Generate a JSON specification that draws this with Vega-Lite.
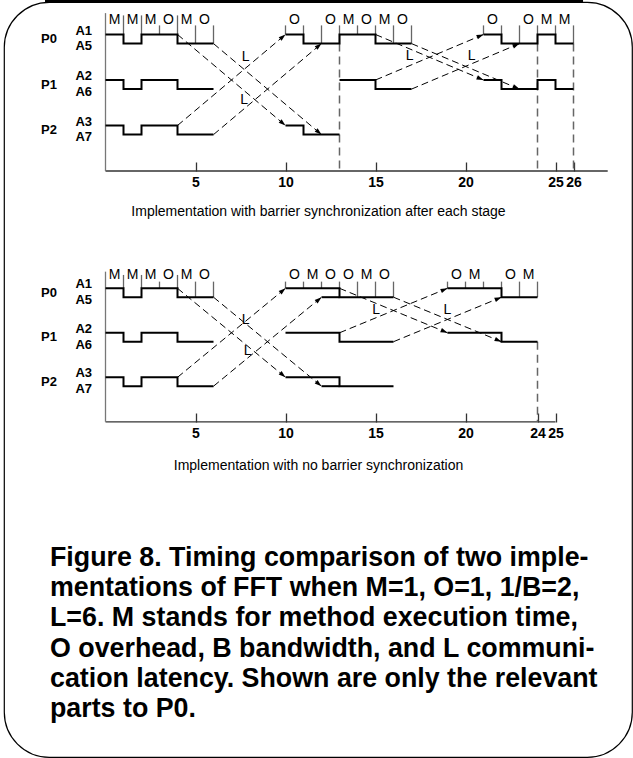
{
  "$schema": "https://vega.github.io/schema/vega-lite/v6.json",
  "width": 628,
  "height": 755,
  "autosize": {"type": "none"},
  "padding": {"left": 4, "top": 2, "right": 1, "bottom": 1},
  "background": "white",
  "config": {"view": {"stroke": "#000", "strokeWidth": 1.2, "cornerRadius": 45}, "font": "Liberation Sans"},
  "title": {
    "text": ["Figure 8. Timing comparison of two imple-", "mentations of FFT when M=1, O=1, 1/B=2,", "L=6.  M stands for method execution time,", "O overhead, B bandwidth, and L communi-", "cation latency. Shown are only the relevant", "parts to P0."],
    "orient": "bottom", "anchor": "start", "frame": "group", "align": "left", "baseline": "top",
    "offset": -212, "dx": 46, "font": "Liberation Sans", "fontSize": 26.8, "fontWeight": "bold", "lineHeight": 30.2, "color": "#000"
  },
  "datasets": {
    "prof": [
      {"d":"T","path":"T-P0a","t":0,"l":0},{"d":"T","path":"T-P0a","t":1,"l":1},{"d":"T","path":"T-P0a","t":2,"l":0},{"d":"T","path":"T-P0a","t":4,"l":1},{"d":"T","path":"T-P0a","t":6,"l":1},
      {"d":"T","path":"T-P1a","t":0,"l":5},{"d":"T","path":"T-P1a","t":1,"l":6},{"d":"T","path":"T-P1a","t":2,"l":5},{"d":"T","path":"T-P1a","t":4,"l":6},{"d":"T","path":"T-P1a","t":6,"l":6},
      {"d":"T","path":"T-P2a","t":0,"l":10},{"d":"T","path":"T-P2a","t":1,"l":11},{"d":"T","path":"T-P2a","t":2,"l":10},{"d":"T","path":"T-P2a","t":4,"l":11},{"d":"T","path":"T-P2a","t":6,"l":11},
      {"d":"T","path":"T-P0b","t":10,"l":0},{"d":"T","path":"T-P0b","t":11,"l":1},{"d":"T","path":"T-P0b","t":13,"l":0},{"d":"T","path":"T-P0b","t":15,"l":1},{"d":"T","path":"T-P0b","t":17,"l":1},
      {"d":"T","path":"T-P1b","t":13,"l":5},{"d":"T","path":"T-P1b","t":15,"l":6},{"d":"T","path":"T-P1b","t":17,"l":6},
      {"d":"T","path":"T-P2b","t":10,"l":10},{"d":"T","path":"T-P2b","t":11,"l":11},{"d":"T","path":"T-P2b","t":13,"l":11},
      {"d":"T","path":"T-P0c","t":21,"l":0},{"d":"T","path":"T-P0c","t":22,"l":1},{"d":"T","path":"T-P0c","t":24,"l":0},{"d":"T","path":"T-P0c","t":25,"l":1},{"d":"T","path":"T-P0c","t":26,"l":1},
      {"d":"T","path":"T-P1c","t":21,"l":5},{"d":"T","path":"T-P1c","t":22,"l":6},{"d":"T","path":"T-P1c","t":24,"l":5},{"d":"T","path":"T-P1c","t":25,"l":6},{"d":"T","path":"T-P1c","t":26,"l":6},
      {"d":"B","path":"B-P0a","t":0,"l":0},{"d":"B","path":"B-P0a","t":1,"l":1},{"d":"B","path":"B-P0a","t":2,"l":0},{"d":"B","path":"B-P0a","t":4,"l":1},{"d":"B","path":"B-P0a","t":6,"l":1},
      {"d":"B","path":"B-P1a","t":0,"l":5},{"d":"B","path":"B-P1a","t":1,"l":6},{"d":"B","path":"B-P1a","t":2,"l":5},{"d":"B","path":"B-P1a","t":4,"l":6},{"d":"B","path":"B-P1a","t":6,"l":6},
      {"d":"B","path":"B-P2a","t":0,"l":10},{"d":"B","path":"B-P2a","t":1,"l":11},{"d":"B","path":"B-P2a","t":2,"l":10},{"d":"B","path":"B-P2a","t":4,"l":11},{"d":"B","path":"B-P2a","t":6,"l":11},
      {"d":"B","path":"B-P0b","t":10,"l":0},{"d":"B","path":"B-P0b","t":13,"l":1},{"d":"B","path":"B-P0b","t":16,"l":1},
      {"d":"B","path":"B-P0x","t":12,"l":1},{"d":"B","path":"B-P0x","t":13,"l":1},
      {"d":"B","path":"B-P1b","t":10,"l":5},{"d":"B","path":"B-P1b","t":13,"l":6},{"d":"B","path":"B-P1b","t":16,"l":6},
      {"d":"B","path":"B-P2b","t":10,"l":10},{"d":"B","path":"B-P2b","t":13,"l":11},{"d":"B","path":"B-P2b","t":16,"l":11},
      {"d":"B","path":"B-P2x","t":12,"l":11},{"d":"B","path":"B-P2x","t":13,"l":11},
      {"d":"B","path":"B-P0c","t":19,"l":0},{"d":"B","path":"B-P0c","t":22,"l":1},{"d":"B","path":"B-P0c","t":24,"l":1},
      {"d":"B","path":"B-P1c","t":19,"l":5},{"d":"B","path":"B-P1c","t":22,"l":6},{"d":"B","path":"B-P1c","t":24,"l":6}
    ],
    "sep": [
      {"d":"T","t":1,"l":0,"h":"tall"},{"d":"T","t":2,"l":0,"h":"tall"},{"d":"T","t":3,"l":0,"h":"short"},{"d":"T","t":4,"l":0,"h":"tall"},{"d":"T","t":5,"l":1,"h":"short"},{"d":"T","t":6,"l":1,"h":"short"},
      {"d":"T","t":10,"l":0,"h":"short"},{"d":"T","t":11,"l":0,"h":"short"},{"d":"T","t":12,"l":1,"h":"short"},{"d":"T","t":13,"l":1,"h":"short"},{"d":"T","t":14,"l":0,"h":"short"},{"d":"T","t":15,"l":0,"h":"short"},{"d":"T","t":16,"l":1,"h":"short"},{"d":"T","t":17,"l":1,"h":"short"},
      {"d":"T","t":21,"l":0,"h":"short"},{"d":"T","t":22,"l":0,"h":"short"},{"d":"T","t":23,"l":1,"h":"short"},{"d":"T","t":24,"l":1,"h":"short"},{"d":"T","t":25,"l":0,"h":"short"},{"d":"T","t":26,"l":1,"h":"short"},
      {"d":"B","t":1,"l":0,"h":"tall"},{"d":"B","t":2,"l":0,"h":"tall"},{"d":"B","t":3,"l":0,"h":"short"},{"d":"B","t":4,"l":0,"h":"tall"},{"d":"B","t":5,"l":1,"h":"short"},{"d":"B","t":6,"l":1,"h":"short"},
      {"d":"B","t":10,"l":0,"h":"short"},{"d":"B","t":11,"l":0,"h":"short"},{"d":"B","t":12,"l":0,"h":"short"},{"d":"B","t":13,"l":0,"h":"short"},{"d":"B","t":14,"l":1,"h":"short"},{"d":"B","t":15,"l":1,"h":"short"},{"d":"B","t":16,"l":1,"h":"short"},
      {"d":"B","t":19,"l":0,"h":"short"},{"d":"B","t":20,"l":0,"h":"short"},{"d":"B","t":21,"l":0,"h":"short"},{"d":"B","t":22,"l":0,"h":"short"},{"d":"B","t":23,"l":1,"h":"short"},{"d":"B","t":24,"l":1,"h":"short"}
    ],
    "ops": [
      {"d":"T","t":0.5,"l":0,"op":"M"},{"d":"T","t":1.5,"l":0,"op":"M"},{"d":"T","t":2.5,"l":0,"op":"M"},{"d":"T","t":3.5,"l":0,"op":"O"},{"d":"T","t":4.5,"l":0,"op":"M"},{"d":"T","t":5.5,"l":0,"op":"O"},
      {"d":"T","t":10.5,"l":0,"op":"O"},{"d":"T","t":12.5,"l":0,"op":"O"},{"d":"T","t":13.5,"l":0,"op":"M"},{"d":"T","t":14.5,"l":0,"op":"O"},{"d":"T","t":15.5,"l":0,"op":"M"},{"d":"T","t":16.5,"l":0,"op":"O"},
      {"d":"T","t":21.5,"l":0,"op":"O"},{"d":"T","t":23.5,"l":0,"op":"O"},{"d":"T","t":24.5,"l":0,"op":"M"},{"d":"T","t":25.5,"l":0,"op":"M"},
      {"d":"B","t":0.5,"l":0,"op":"M"},{"d":"B","t":1.5,"l":0,"op":"M"},{"d":"B","t":2.5,"l":0,"op":"M"},{"d":"B","t":3.5,"l":0,"op":"O"},{"d":"B","t":4.5,"l":0,"op":"M"},{"d":"B","t":5.5,"l":0,"op":"O"},
      {"d":"B","t":10.5,"l":0,"op":"O"},{"d":"B","t":11.5,"l":0,"op":"M"},{"d":"B","t":12.5,"l":0,"op":"O"},{"d":"B","t":13.5,"l":0,"op":"O"},{"d":"B","t":14.5,"l":0,"op":"M"},{"d":"B","t":15.5,"l":0,"op":"O"},
      {"d":"B","t":19.5,"l":0,"op":"O"},{"d":"B","t":20.5,"l":0,"op":"M"},{"d":"B","t":22.5,"l":0,"op":"O"},{"d":"B","t":23.5,"l":0,"op":"M"}
    ],
    "arr": [
      {"d":"T","t":4,"l":0,"t2":10,"l2":10},{"d":"T","t":6,"l":1,"t2":12,"l2":11},{"d":"T","t":4,"l":10,"t2":10,"l2":0},{"d":"T","t":6,"l":11,"t2":12,"l2":1},
      {"d":"T","t":15,"l":0,"t2":21,"l2":5},{"d":"T","t":17,"l":1,"t2":23,"l2":6},{"d":"T","t":15,"l":5,"t2":21,"l2":0},{"d":"T","t":17,"l":6,"t2":23,"l2":1},
      {"d":"B","t":4,"l":0,"t2":10,"l2":10},{"d":"B","t":6,"l":1,"t2":12,"l2":11},{"d":"B","t":4,"l":10,"t2":10,"l2":0},{"d":"B","t":6,"l":11,"t2":12,"l2":1},
      {"d":"B","t":13,"l":0,"t2":19,"l2":5},{"d":"B","t":16,"l":1,"t2":22,"l2":6},{"d":"B","t":13,"l":5,"t2":19,"l2":0},{"d":"B","t":16,"l":6,"t2":22,"l2":1}
    ],
    "bar": [
      {"d":"T","t":13,"l":1},{"d":"T","t":24,"l":1},{"d":"T","t":26,"l":1},{"d":"B","t":24,"l":6}
    ],
    "lat": [
      {"d":"T","t":7.79,"l":2.45},{"d":"T","t":7.7,"l":7.2},{"d":"T","t":16.9,"l":2.34},{"d":"T","t":20.34,"l":2.34},
      {"d":"B","t":7.79,"l":3.56},{"d":"B","t":7.9,"l":7.1},{"d":"B","t":15.04,"l":2.49},{"d":"B","t":19.0,"l":2.49}
    ],
    "lanes": [
      {"lane":"P0","t":0,"l":0,"ahi":"A1","alo":"A5"},{"lane":"P1","t":0,"l":5,"ahi":"A2","alo":"A6"},{"lane":"P2","t":0,"l":10,"ahi":"A3","alo":"A7"}
    ],
    "axl": [
      {"d":"T","t":0,"t2":27.9,"l":15},{"d":"B","t":0,"t2":25,"l":15}
    ]
  },
  "encoding": {"x": {"field": "t", "type": "quantitative", "scale": {"domain": [-5.6389, 29.25], "nice": false, "zero": false}}},
  "layer": [
    {
      "encoding": {"y": {"field": "l", "type": "quantitative", "scale": {"domain": [-3.5714, 79.3956], "reverse": true, "nice": false, "zero": false}, "axis": null}},
      "layer": [
        {"data": {"name": "axl"}, "transform": [{"filter": "datum.d == 'T'"}], "mark": {"type": "rule", "color": "#333", "strokeWidth": 1.3},
         "encoding": {
           "x": {"field": "t", "type": "quantitative", "scale": {"domain": [-5.6389, 29.25], "nice": false, "zero": false},
                 "axis": {"orient": "bottom", "offset": -586, "values": [5, 10, 15, 20, 25, 26], "domain": false, "grid": false, "ticks": true, "tickSize": -9, "tickColor": "#333", "tickWidth": 1.3,
                          "labelFont": "Liberation Sans", "labelFontWeight": "bold", "labelFontSize": 14, "labelColor": "#000", "labelPadding": 13, "labelAngle": 0, "labelFlush": false, "labelOverlap": false,
                          "title": "Implementation with barrier synchronization after each stage", "titleFont": "Liberation Sans", "titleFontSize": 14, "titleFontWeight": "normal", "titleColor": "#000", "titlePadding": 15}},
           "x2": {"field": "t2"}}},
        {"data": {"name": "axl"}, "transform": [{"filter": "datum.d == 'T'"}], "mark": {"type": "rule", "color": "#000", "strokeWidth": 3},
         "encoding": {"x": {"datum": -3.36, "type": "quantitative"}, "x2": {"datum": 26.53}, "y": {"datum": -3.626, "type": "quantitative"}}},
        {"data": {"name": "sep"}, "transform": [{"filter": "datum.d == 'T' && datum.h == 'tall'"}], "mark": {"type": "rule", "color": "#666", "strokeWidth": 1.3}, "encoding": {"y2": {"datum": -2.1}}},
        {"data": {"name": "sep"}, "transform": [{"filter": "datum.d == 'T' && datum.h == 'short'"}], "mark": {"type": "rule", "color": "#666", "strokeWidth": 1.3}, "encoding": {"y2": {"datum": -1.0}}},
        {"data": {"name": "bar"}, "transform": [{"filter": "datum.d == 'T'"}], "mark": {"type": "rule", "color": "#666", "strokeWidth": 1.5, "strokeDash": [8, 5]}, "encoding": {"y2": {"datum": 15}}},
        {"data": {"name": "axl"}, "transform": [{"filter": "datum.d == 'T'"}], "mark": {"type": "rule", "color": "#777", "strokeWidth": 1.3}, "encoding": {"y2": {"datum": -2.35}}},
        {"data": {"name": "arr"}, "transform": [{"filter": "datum.d == 'T'"}], "mark": {"type": "rule", "color": "#000", "strokeWidth": 1, "strokeDash": [7, 4]},
         "encoding": {"x2": {"field": "t2"}, "y2": {"field": "l2"}}},
        {"data": {"name": "arr"}, "transform": [{"filter": "datum.d == 'T'"}, {"calculate": "datum.l2 - datum.l", "as": "dl"}],
         "mark": {"type": "point", "shape": "M0,0L-2,-0.65L-2,0.65Z", "filled": true, "size": 49, "color": "#000", "opacity": 1, "strokeWidth": 0},
         "encoding": {
           "x": {"field": "t2", "type": "quantitative", "scale": {"domain": [-5.6389, 29.25], "nice": false, "zero": false}},
           "y": {"field": "l2", "type": "quantitative", "scale": {"domain": [-3.5714, 79.3956], "reverse": true, "nice": false, "zero": false}, "axis": null},
           "angle": {"field": "dl", "type": "quantitative", "scale": {"domain": [-10, -5, 5, 10], "range": [320, 337.2, 22.8, 40]}, "legend": null}}},
        {"data": {"name": "prof"}, "transform": [{"filter": "datum.d == 'T'"}], "mark": {"type": "line", "interpolate": "step-after", "color": "#000", "strokeWidth": 2},
         "encoding": {"detail": {"field": "path"}}},
        {"data": {"name": "ops"}, "transform": [{"filter": "datum.d == 'T' && datum.op == 'M'"}], "mark": {"type": "text", "text": "M", "fontSize": 14, "align": "center", "baseline": "middle", "dy": -14.5, "color": "#000"}},
        {"data": {"name": "ops"}, "transform": [{"filter": "datum.d == 'T' && datum.op == 'O'"}], "mark": {"type": "text", "text": "O", "fontSize": 14, "align": "center", "baseline": "middle", "dy": -14.5, "color": "#000"}},
        {"data": {"name": "lat"}, "transform": [{"filter": "datum.d == 'T'"}], "mark": {"type": "text", "fontSize": 14, "align": "center", "baseline": "middle", "color": "#000", "text": "L"}},
        {"data": {"name": "lanes"}, "mark": {"type": "text", "fontSize": 13, "fontWeight": "bold", "align": "right", "baseline": "middle", "dx": -48.5, "dy": 5, "color": "#000"},
         "encoding": {"text": {"field": "lane", "type": "nominal"}}},
        {"data": {"name": "lanes"}, "mark": {"type": "text", "fontSize": 13, "fontWeight": "bold", "align": "right", "baseline": "middle", "dx": -13.5, "dy": -3.5, "color": "#000"},
         "encoding": {"text": {"field": "ahi", "type": "nominal"}}},
        {"data": {"name": "lanes"}, "mark": {"type": "text", "fontSize": 13, "fontWeight": "bold", "align": "right", "baseline": "middle", "dx": -13.5, "dy": 12, "color": "#000"},
         "encoding": {"text": {"field": "alo", "type": "nominal"}}}
      ]
    },
    {
      "encoding": {"y": {"field": "l", "type": "quantitative", "scale": {"domain": [-32.1685, 52.6629], "reverse": true, "nice": false, "zero": false}, "axis": null}},
      "layer": [
        {"data": {"name": "axl"}, "transform": [{"filter": "datum.d == 'B'"}], "mark": {"type": "rule", "color": "#333", "strokeWidth": 1.3},
         "encoding": {
           "x": {"field": "t", "type": "quantitative", "scale": {"domain": [-5.6389, 29.25], "nice": false, "zero": false},
                 "axis": {"orient": "bottom", "offset": -335, "values": [5, 10, 15, 20, 24, 25], "domain": false, "grid": false, "ticks": true, "tickSize": -9, "tickColor": "#333", "tickWidth": 1.3,
                          "labelFont": "Liberation Sans", "labelFontWeight": "bold", "labelFontSize": 14, "labelColor": "#000", "labelPadding": 13, "labelAngle": 0, "labelFlush": false, "labelOverlap": false,
                          "title": "Implementation with no barrier synchronization", "titleFont": "Liberation Sans", "titleFontSize": 14, "titleFontWeight": "normal", "titleColor": "#000", "titlePadding": 18}},
           "x2": {"field": "t2"}}},
        {"data": {"name": "sep"}, "transform": [{"filter": "datum.d == 'B' && datum.h == 'tall'"}], "mark": {"type": "rule", "color": "#666", "strokeWidth": 1.3}, "encoding": {"y2": {"datum": -1.5}}},
        {"data": {"name": "sep"}, "transform": [{"filter": "datum.d == 'B' && datum.h == 'short'"}], "mark": {"type": "rule", "color": "#666", "strokeWidth": 1.3}, "encoding": {"y2": {"datum": -0.75}}},
        {"data": {"name": "bar"}, "transform": [{"filter": "datum.d == 'B'"}], "mark": {"type": "rule", "color": "#666", "strokeWidth": 1.5, "strokeDash": [8, 5]}, "encoding": {"y2": {"datum": 15}}},
        {"data": {"name": "axl"}, "transform": [{"filter": "datum.d == 'B'"}], "mark": {"type": "rule", "color": "#777", "strokeWidth": 1.3}, "encoding": {"y2": {"datum": -1.87}}},
        {"data": {"name": "arr"}, "transform": [{"filter": "datum.d == 'B'"}], "mark": {"type": "rule", "color": "#000", "strokeWidth": 1, "strokeDash": [7, 4]},
         "encoding": {"x2": {"field": "t2"}, "y2": {"field": "l2"}}},
        {"data": {"name": "arr"}, "transform": [{"filter": "datum.d == 'B'"}, {"calculate": "datum.l2 - datum.l", "as": "dl"}],
         "mark": {"type": "point", "shape": "M0,0L-2,-0.65L-2,0.65Z", "filled": true, "size": 49, "color": "#000", "opacity": 1, "strokeWidth": 0},
         "encoding": {
           "x": {"field": "t2", "type": "quantitative", "scale": {"domain": [-5.6389, 29.25], "nice": false, "zero": false}},
           "y": {"field": "l2", "type": "quantitative", "scale": {"domain": [-32.1685, 52.6629], "reverse": true, "nice": false, "zero": false}, "axis": null},
           "angle": {"field": "dl", "type": "quantitative", "scale": {"domain": [-10, -5, 5, 10], "range": [320, 337.6, 22.4, 39.5]}, "legend": null}}},
        {"data": {"name": "prof"}, "transform": [{"filter": "datum.d == 'B'"}], "mark": {"type": "line", "interpolate": "step-after", "color": "#000", "strokeWidth": 2},
         "encoding": {"detail": {"field": "path"}}},
        {"data": {"name": "ops"}, "transform": [{"filter": "datum.d == 'B' && datum.op == 'M'"}], "mark": {"type": "text", "text": "M", "fontSize": 14, "align": "center", "baseline": "middle", "dy": -13.3, "color": "#000"}},
        {"data": {"name": "ops"}, "transform": [{"filter": "datum.d == 'B' && datum.op == 'O'"}], "mark": {"type": "text", "text": "O", "fontSize": 14, "align": "center", "baseline": "middle", "dy": -13.3, "color": "#000"}},
        {"data": {"name": "lat"}, "transform": [{"filter": "datum.d == 'B'"}], "mark": {"type": "text", "fontSize": 14, "align": "center", "baseline": "middle", "color": "#000", "text": "L"}},
        {"data": {"name": "lanes"}, "mark": {"type": "text", "fontSize": 13, "fontWeight": "bold", "align": "right", "baseline": "middle", "dx": -48.5, "dy": 4.5, "color": "#000"},
         "encoding": {"text": {"field": "lane", "type": "nominal"}}},
        {"data": {"name": "lanes"}, "mark": {"type": "text", "fontSize": 13, "fontWeight": "bold", "align": "right", "baseline": "middle", "dx": -13.5, "dy": -4, "color": "#000"},
         "encoding": {"text": {"field": "ahi", "type": "nominal"}}},
        {"data": {"name": "lanes"}, "mark": {"type": "text", "fontSize": 13, "fontWeight": "bold", "align": "right", "baseline": "middle", "dx": -13.5, "dy": 12, "color": "#000"},
         "encoding": {"text": {"field": "alo", "type": "nominal"}}}
      ]
    }
  ],
  "resolve": {"scale": {"y": "independent"}, "axis": {"x": "independent"}}
}
